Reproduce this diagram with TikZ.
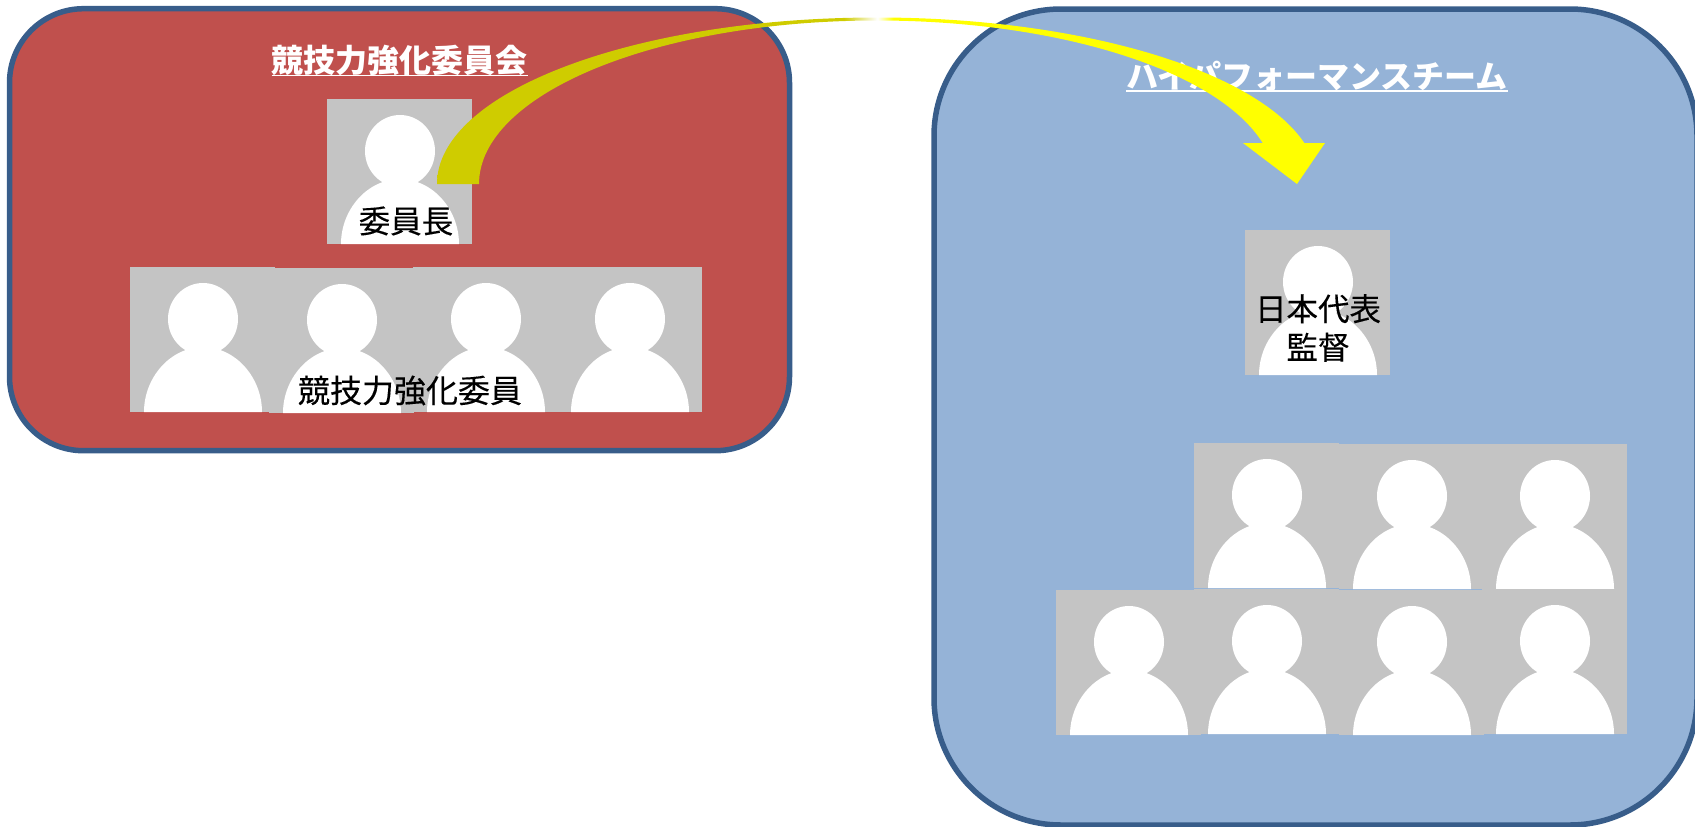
\documentclass[tikz,border=0pt]{standalone}
\usepackage{fontspec}
\setmainfont{Noto Sans CJK JP}
\newfontfamily\captionface[FakeBold=0.25]{Noto Sans CJK JP}
\definecolor{panelred}{HTML}{C0504D}
\definecolor{panelblue}{HTML}{95B3D7}
\definecolor{panelline}{HTML}{385D8A}
\definecolor{photogray}{HTML}{C4C4C4}
\definecolor{arrowdark}{HTML}{CFCC00}
\pgfdeclarehorizontalshading{bowshade}{100bp}{
  color(0bp)=(arrowdark); color(47.9bp)=(arrowdark); color(49.8bp)=(white);
  color(50.7bp)=(yellow); color(100bp)=(yellow)}
\tikzset{
  panel/.style={draw=panelline,line width=5.5pt,inner sep=0pt,outer sep=0pt},
  photo/.style={fill=photogray,inner sep=0pt,outer sep=0pt,anchor=north west,minimum width=145pt,minimum height=145pt},
  title/.style={text=white,inner sep=0pt,outer sep=0pt,font=\fontsize{32}{38}\selectfont\bfseries},
  caption/.style={text=black,inner sep=0pt,outer sep=0pt,align=center,font=\captionface\fontsize{31.5}{38.5}\selectfont},
  rule/.style={draw=white,line width=1.6pt}
}
\newcommand{\personphoto}[3]{%
  \node[photo] (#1) at (#2,#3) {};
  \begin{scope}[shift={(#1.north west)}]
    \fill[white] (73,52) ellipse [x radius=35pt,y radius=36pt];
    \fill[white] (14,145) .. controls (14,110) and (41,80) .. (73,80)
       .. controls (105,80) and (132,110) .. (132,145) -- cycle;
  \end{scope}}
\begin{document}
\begin{tikzpicture}[x=1pt,y=-1pt]
\useasboundingbox (0,0) rectangle (1695,827);
\node[panel,fill=panelred,rounded corners=74pt,minimum width=780pt,minimum height=442pt] (redpanel) at (399.5,229.7) {};
\node[panel,fill=panelblue,rounded corners=127pt,minimum width=763pt,minimum height=816pt] (bluepanel) at (1315.5,417) {};
\node[title] (redtitle) at (399.5,60) {競技力強化委員会};
\draw[rule] (redtitle.west |- 0,75.5) -- (redtitle.east |- 0,75.5);
\node[title] (bluetitle) at (1317,76) {ハイパフォーマンスチーム};
\draw[rule] (bluetitle.west |- 0,91) -- (bluetitle.east |- 0,91);
\personphoto{chair}{327}{99}
\personphoto{ra}{130}{267}
\personphoto{rb}{269}{268}
\personphoto{rc}{413}{267}
\personphoto{rd}{557}{267}
\personphoto{coach}{1245}{230}
\personphoto{ha}{1194}{443}
\personphoto{hb}{1339}{444}
\personphoto{hc}{1482}{444}
\personphoto{la}{1056}{590}
\personphoto{lb}{1194}{589}
\personphoto{lc}{1339}{590}
\personphoto{ld}{1482}{589}
\node[caption] (chaircap) at (406,221) {委員長};
\node[caption,font=\captionface\fontsize{32}{38.5}\selectfont] (membercap) at (410,390.5) {競技力強化委員};
\node[caption] (coachcap) at (1318,328) {日本代表\\監督};
\coordinate (bowstart) at (437,184);
\coordinate (bowtip) at (1297,184);
\begin{scope}
  \clip (bowstart) .. controls (437,92) and (634,17.5) .. (877,17.5)
     .. controls (1078.4,17.5) and (1254.6,69.3) .. (1304.3,143)
     -- (1325,143) -- (bowtip) -- (1243,143) -- (1262.7,143)
     .. controls (1217.8,70.7) and (1058.7,20.5) .. (877,20.5)
     .. controls (657,20.5) and (479,93.7) .. (479,184) -- cycle;
  \shade[shading=bowshade,shading angle=0] (437,0) rectangle (1325,200);
\end{scope}
\end{tikzpicture}
\end{document}
